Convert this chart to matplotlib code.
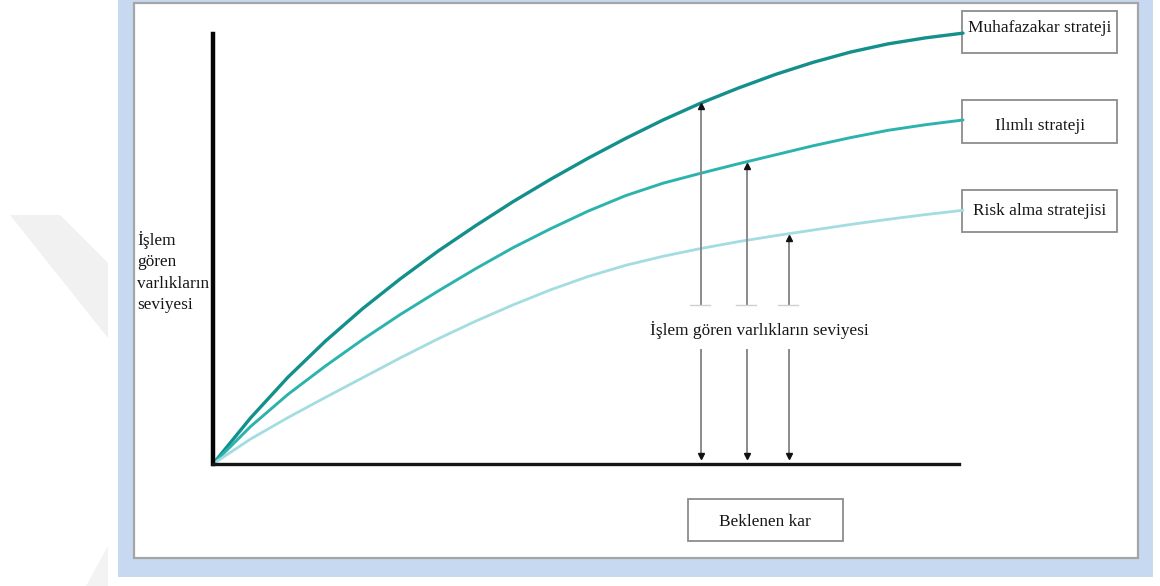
import matplotlib.pyplot as plt
from matplotlib.patches import Rectangle, Polygon

plt.rcParams['font.family'] = ['Liberation Serif', 'DejaVu Serif']

# values (x: beklenen kar, y: işlem gören varlıkların seviyesi)
beklenen_kar = [0, 0.5, 1, 1.5, 2, 2.5, 3, 3.5, 4, 4.5, 5,
                5.5, 6, 6.5, 7, 7.5, 8, 8.5, 9, 9.5, 10]
muhafazakar = [0, 1.07, 2.02, 2.86, 3.62, 4.31, 4.95, 5.54, 6.10, 6.62, 7.11,
               7.57, 8.00, 8.39, 8.74, 9.06, 9.34, 9.58, 9.77, 9.91, 10.02]
ilimli = [0, 0.87, 1.62, 2.28, 2.90, 3.48, 4.02, 4.54, 5.03, 5.47, 5.88,
          6.24, 6.53, 6.76, 6.98, 7.19, 7.40, 7.59, 7.76, 7.89, 8.00]
risk_alma = [0, 0.58, 1.08, 1.55, 2.01, 2.47, 2.91, 3.32, 3.70, 4.05, 4.36,
             4.62, 4.83, 5.01, 5.17, 5.31, 5.44, 5.57, 5.69, 5.80, 5.90]
strategies = ["Muhafazakar strateji", "Ilımlı strateji", "Risk alma stratejisi"]
colors = ["#13908c", "#2cb3ae", "#a3dce1"]
widths = [2.4, 2.1, 2.0]

# level markers (arrows) for each strategy
arrow_x = [6.51, 7.12, 7.68]
arrow_top = [8.41, 7.02, 5.33]
arrow_mid_low = 3.70
arrow_mid_high = 2.65
arrow_bottom = 0.10

y_label = "İşlem\ngören\nvarlıkların\nseviyesi"
mid_label = "İşlem gören varlıkların seviyesi"
x_label = "Beklenen kar"

fig = plt.figure(figsize=(11.6, 5.86), dpi=100)

# background: page frame + faint watermark, in pixel units
bg = fig.add_axes([0, 0, 1, 1])
bg.set_xlim(0, 1160)
bg.set_ylim(586, 0)
bg.axis('off')
bg.add_patch(Polygon([(10, 215), (60, 215), (108, 263), (108, 338)],
                     closed=True, color='#f1f1f1', lw=0))
bg.add_patch(Polygon([(108, 546), (108, 586), (86, 586)],
                     closed=True, color='#f3f3f3', lw=0))
bg.add_patch(Rectangle((118, -10), 1035, 587, color='#c6d9f0', lw=0))
bg.add_patch(Rectangle((134, 3), 1004, 555, facecolor='white',
                       edgecolor='#a5a5a5', lw=1.6))

# label boxes
box_y = [(11, 53), (100, 143), (190, 232)]
text_y = [28, 126, 211]
for name, (y0, y1), ty in zip(strategies, box_y, text_y):
    bg.add_patch(Rectangle((962, y0), 155, y1 - y0, facecolor='white',
                           edgecolor='#8c8c8c', lw=1.3))
    bg.text(1040, ty, name, ha='center', va='center', fontsize=12.4,
            color='#161616')
bg.add_patch(Rectangle((688, 499), 155, 42, facecolor='white',
                       edgecolor='#8c8c8c', lw=1.3))
bg.text(765, 522, x_label, ha='center', va='center', fontsize=12.4,
        color='#161616')
bg.text(137, 231, y_label, ha='left', va='top', fontsize=12.4,
        linespacing=1.45, color='#161616')

# main chart
ax = fig.add_axes([213 / 1160, (586 - 464) / 586, 750 / 1160, 430 / 586])
ax.set_xlim(0, 10)
ax.set_ylim(0, 10)
ax.patch.set_alpha(0)
for s in ['top', 'right']:
    ax.spines[s].set_visible(False)
ax.spines['left'].set_linewidth(3.2)
ax.spines['bottom'].set_linewidth(2.4)
ax.spines['left'].set_color('#050505')
ax.spines['bottom'].set_color('#151515')
ax.spines['bottom'].set_bounds(0, 9.95)
ax.set_xticks([])
ax.set_yticks([])

for ys, c, w in zip([muhafazakar, ilimli, risk_alma], colors, widths):
    ax.plot(beklenen_kar, ys, color=c, lw=w, clip_on=False,
            solid_capstyle='round', solid_joinstyle='round')

for x, top in zip(arrow_x, arrow_top):
    ax.plot([x, x], [arrow_mid_low, top - 0.08], color='#8a8a8a', lw=1.4)
    ax.plot([x], [top - 0.08], marker='^', ms=4.5, color='#111111')
    ax.plot([x, x], [arrow_mid_high, arrow_bottom + 0.08], color='#8a8a8a', lw=1.4)
    ax.plot([x], [arrow_bottom + 0.08], marker='v', ms=4.5, color='#111111')
    ax.plot([x - 0.15, x + 0.12], [arrow_mid_low, arrow_mid_low],
            color='#d0d0d0', lw=1.0)

ax.text((arrow_x[0] + arrow_x[-1]) / 2 + 0.19, (arrow_mid_low + arrow_mid_high) / 2 - 0.06,
        mid_label, ha='center', va='center', fontsize=12.4, color='#161616')

fig.savefig("out.png", dpi=100)
